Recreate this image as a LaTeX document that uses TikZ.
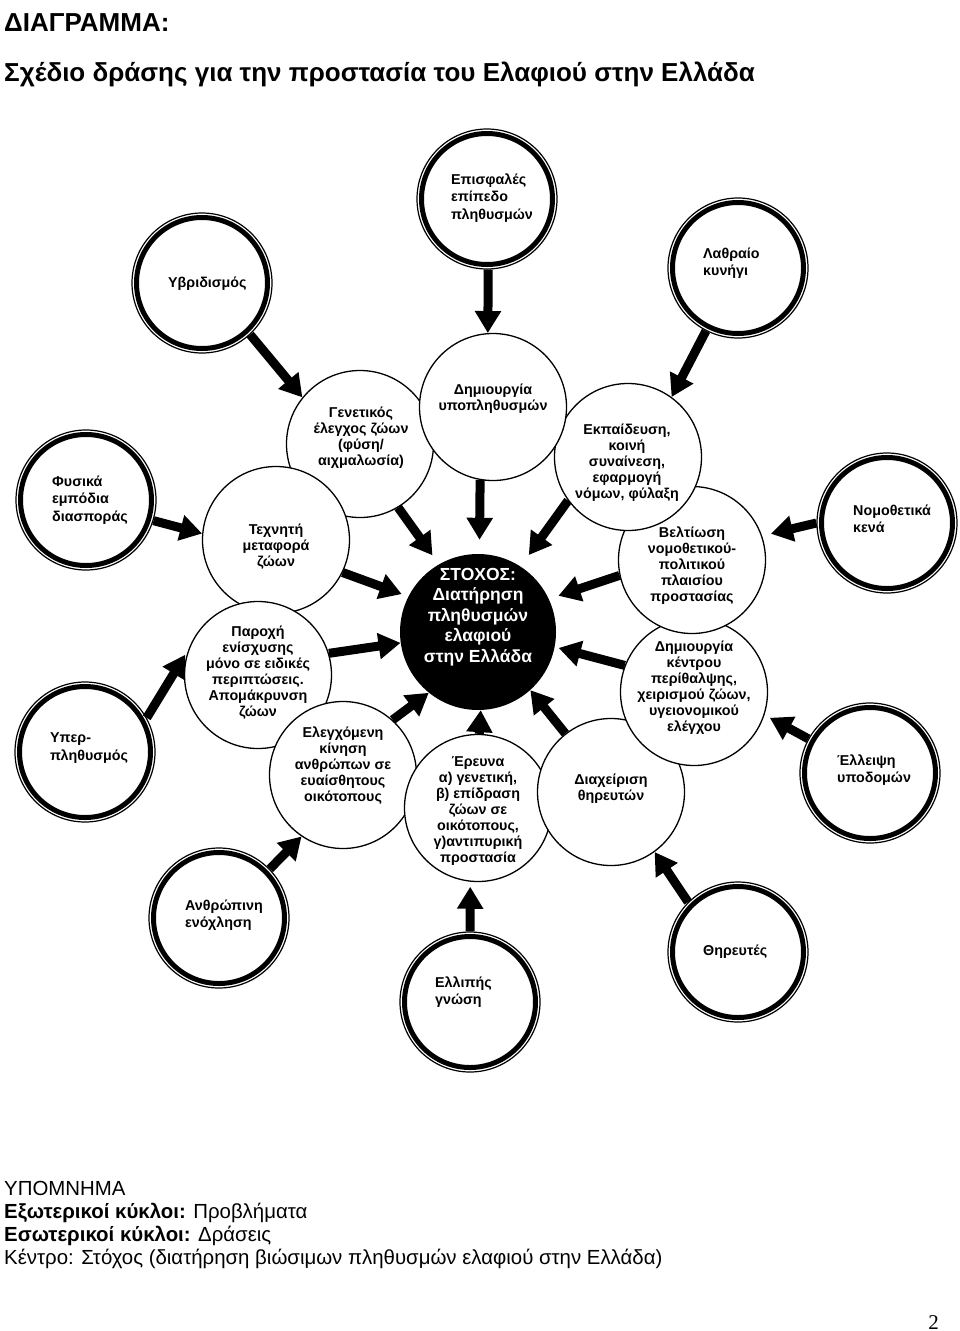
\documentclass[tikz,border=0pt]{standalone}
\usepackage{fontspec}
\setmainfont{Liberation Sans}
\newfontfamily\serifnum{Liberation Serif}
\usetikzlibrary{arrows.meta}
\begin{document}
\begin{tikzpicture}[x=1pt,y=-1pt,
  innerc/.style={circle,draw,fill=white,line width=1.3pt,minimum size=147pt,inner sep=0pt},
  outerc/.style={circle,draw,fill=white,line width=1.2pt,minimum size=140pt,inner sep=0pt,
     path picture={\draw[line width=5pt] (path picture bounding box.center) circle[radius=65.5pt];}},
  goalc/.style={circle,fill=black,minimum size=156pt,inner sep=0pt},
  itxt/.style={font=\fontsize{14.3}{16}\selectfont\bfseries,align=center,inner sep=0pt},
  otxt/.style={font=\fontsize{14.3}{17.5}\selectfont\bfseries,align=left,anchor=west,inner sep=0pt},
  gtxt/.style={font=\fontsize{17.5}{20.5}\selectfont\bfseries,align=center,inner sep=0pt,text=white},
  arr/.style={line width=9pt,-{Triangle[length=22pt,width=25pt]}},
  leg/.style={font=\fontsize{20.4}{23}\selectfont,anchor=base west,inner sep=0pt},
]
\useasboundingbox (0,0) rectangle (960,1331);

% titles
\node[anchor=base west,inner sep=0pt,font=\fontsize{26}{30}\selectfont\bfseries] (t1) at (4,31) {ΔΙΑΓΡΑΜΜΑ:};
\node[anchor=base west,inner sep=0pt,font=\fontsize{26}{30}\selectfont\bfseries] (t2) at (4,81) {Σχέδιο δράσης για την προστασία του Ελαφιού στην Ελλάδα};

% outer (problem) circles
\node[outerc] (epi) at (487,199) {};
\node[outerc] (yvr) at (202,283) {};
\node[outerc] (lath) at (738,268) {};
\node[outerc] (fys) at (86,500) {};
\node[outerc] (nomo) at (887,523) {};
\node[outerc] (yper) at (85,752) {};
\node[outerc] (elle) at (870,773) {};
\node[outerc] (anth) at (219,918) {};
\node[outerc] (ellip) at (470,1002) {};
\node[outerc] (thir) at (738,952) {};

% inner (action) circles
\node[innerc] (gen) at (360,444) {};
\node[innerc] (tex) at (276,540) {};
\node[innerc] (par) at (258,675) {};
\node[innerc] (ele) at (343,775) {};
\node[innerc] (ere) at (478,808) {};
\node[innerc] (dia) at (611,792) {};
\node[innerc] (ken) at (694,692) {};
\node[innerc] (bel) at (692,560) {};
\node[innerc] (ekp) at (628,457) {};
\node[innerc] (ypo) at (493,407) {};

% goal
\node[goalc] (goal) at (478,632) {};
\node[gtxt] (goal-t) at (478,617) {ΣΤΟΧΟΣ:\\Διατήρηση\\πληθυσμών\\ελαφιού\\στην Ελλάδα};

% inner texts
\node[itxt] (gen-t) at (361,438) {Γενετικός\\έλεγχος ζώων\\(φύση/\\αιχμαλωσία)};
\node[itxt] (ypo-t) at (493,399) {Δημιουργία\\υποπληθυσμών};
\node[itxt] (ekp-t) at (627,463) {Εκπαίδευση,\\κοινή\\συναίνεση,\\εφαρμογή\\νόμων, φύλαξη};
\node[itxt] (bel-t) at (692,566) {Βελτίωση\\νομοθετικού-\\πολιτικού\\πλαισίου\\προστασίας};
\node[itxt] (ken-t) at (694,688) {Δημιουργία\\κέντρου\\περίθαλψης,\\χειρισμού ζώων,\\υγειονομικού\\ελέγχου};
\node[itxt] (dia-t) at (611,789) {Διαχείριση\\θηρευτών};
\node[itxt] (ere-t) at (478,811) {Έρευνα\\α) γενετική,\\β) επίδραση\\ζώων σε\\οικότοπους,\\γ)αντιπυρική\\προστασία};
\node[itxt] (ele-t) at (343,766) {Ελεγχόμενη\\κίνηση\\ανθρώπων σε\\ευαίσθητους\\οικότοπους};
\node[itxt] (par-t) at (258,673) {Παροχή\\ενίσχυσης\\μόνο σε ειδικές\\περιπτώσεις.\\Απομάκρυνση\\ζώων};
\node[itxt] (tex-t) at (276,547) {Τεχνητή\\μεταφορά\\ζώων};

% outer texts
\node[otxt] (epi-t) at (451,198) {Επισφαλές\\επίπεδο\\πληθυσμών};
\node[otxt] (yvr-t) at (168,284) {Υβριδισμός};
\node[otxt] (lath-t) at (703,263) {Λαθραίο\\κυνήγι};
\node[otxt] (fys-t) at (52,500) {Φυσικά\\εμπόδια\\διασποράς};
\node[otxt] (nomo-t) at (853,519) {Νομοθετικά\\κενά};
\node[otxt] (yper-t) at (50,748) {Υπερ-\\πληθυσμός};
\node[otxt] (elle-t) at (837,770) {Έλλειψη\\υποδομών};
\node[otxt] (anth-t) at (185,915) {Ανθρώπινη\\ενόχληση};
\node[otxt] (ellip-t) at (435,992) {Ελλιπής\\γνώση};
\node[otxt] (thir-t) at (703,952) {Θηρευτές};

% arrows problems -> actions
\draw[arr] (epi.-89) -- (ypo.94);
\draw[arr] (yvr.-47) -- (gen.141);
\draw[arr] (lath.-117) -- (ekp.54);
\draw[arr] (fys.-17) -- (tex.175);
\draw[arr,shorten >=9pt] (nomo.180) -- (bel.19);
\draw[arr,shorten >=6pt] (yper.29) -- (par.160);
\draw[arr,shorten >=6pt] (elle.151) -- (ken.-18);
\draw[arr] (anth.44) -- (ele.236);
\draw[arr,shorten >=5pt] (ellip.90) -- (ere.264);
\draw[arr] (thir.135) -- (dia.-54);

% arrows actions -> goal
\draw[arr,shorten >=11pt] (gen.-59) -- (goal.120);
\draw[arr,shorten >=14pt] (ypo.-100) -- (goal.89);
\draw[arr,shorten >=14pt] (ekp.-144) -- (goal.57);
\draw[arr,shorten >=7pt] (tex.-26) -- (goal.153);
\draw[arr,shorten >=10pt] (bel.192) -- (goal.25);
\draw[arr] (par.17) -- (goal.188);
\draw[arr,shorten >=4pt] (ken.159) -- (goal.-11);
\draw[arr] (ele.48) -- (goal.-129);
\draw[arr] (ere.89) -- (goal.-88);
\draw[arr] (dia.128) -- (goal.-48);

% legend
\node[leg] (l1) at (4,1195) {ΥΠΟΜΝΗΜΑ};
\node[leg] (l2) at (4,1218) {\textbf{Εξωτερικοί κύκλοι:} Προβλήματα};
\node[leg] (l3) at (4,1241) {\textbf{Εσωτερικοί κύκλοι:} Δράσεις};
\node[leg] (l4) at (4,1264) {Κέντρο: Στόχος (διατήρηση βιώσιμων πληθυσμών ελαφιού στην Ελλάδα)};
\node[anchor=base east,inner sep=0pt,font=\serifnum\fontsize{21}{24}\selectfont] (pg) at (939,1329) {2};
\end{tikzpicture}
\end{document}
